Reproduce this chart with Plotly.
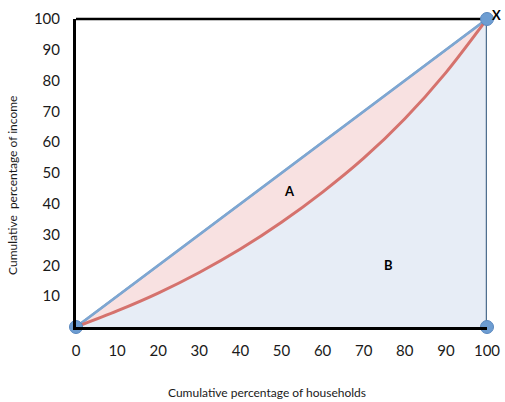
import plotly.graph_objects as go

# Data
curve_x = [0, 10, 20, 30, 40, 50, 60, 70, 80, 90, 100]
curve_y = [0, 5.2, 11, 17.7, 25.3, 34, 43.8, 54.8, 67.6, 82.6, 100]
equal_x = [0, 100]
equal_y = [0, 100]
point_x = [0, 100, 100]
point_y = [0, 0, 100]
x_ticks = [0, 10, 20, 30, 40, 50, 60, 70, 80, 90, 100]
y_ticks = [10, 20, 30, 40, 50, 60, 70, 80, 90, 100]
x_title = "Cumulative percentage of households"
y_title = "Cumulative  percentage of income"

FONT = "Lato, 'Open Sans', sans-serif"

fig = go.Figure()

# light blue area under the Lorenz curve
fig.add_trace(go.Scatter(
    x=curve_x, y=curve_y, fill="tozeroy", fillcolor="#e7edf6", mode="none",
    line=dict(shape="spline", smoothing=0.8), hoverinfo="skip"))

# equality line (reference for pink fill)
fig.add_trace(go.Scatter(
    x=equal_x, y=equal_y, mode="lines",
    line=dict(color="#7ea6d1", width=2.5), hoverinfo="skip", cliponaxis=False))

# pink area between equality line and curve
fig.add_trace(go.Scatter(
    x=curve_x, y=curve_y, fill="tonexty", fillcolor="#f8e1e1", mode="none",
    line=dict(shape="spline", smoothing=0.8), hoverinfo="skip"))

# line of equality (redraw on top of fill)
fig.add_trace(go.Scatter(
    x=equal_x, y=equal_y, mode="lines",
    line=dict(color="#7ea6d1", width=2.5), hoverinfo="skip", cliponaxis=False))

# right edge
fig.add_trace(go.Scatter(
    x=[equal_x[1], equal_x[1]], y=[equal_y[0], equal_y[1]],
    mode="lines", line=dict(color="#4f6f8f", width=2.5), hoverinfo="skip",
    cliponaxis=False))

# Lorenz curve
fig.add_trace(go.Scatter(
    x=curve_x, y=curve_y, mode="lines",
    line=dict(color="#d5726d", width=3, shape="spline", smoothing=0.8),
    hoverinfo="skip", cliponaxis=False))

# corner points
fig.add_trace(go.Scatter(
    x=point_x, y=point_y, mode="markers",
    marker=dict(size=13, color="#6d9dd2", line=dict(color="#5a88be", width=1)),
    hoverinfo="skip", cliponaxis=False))

fig.update_layout(
    width=505, height=402,
    margin=dict(l=76, r=18, t=19, b=75),
    plot_bgcolor="white", paper_bgcolor="white",
    showlegend=False,
    font=dict(family=FONT, color="#1a1a1a"),
    xaxis=dict(range=[0, 100], showgrid=False, zeroline=False, automargin=False,
               tickvals=x_ticks, ticktext=[str(v) for v in x_ticks],
               tickfont=dict(size=15), ticks="", ticklabelstandoff=8,
               showline=True, linecolor="black", linewidth=3),
    yaxis=dict(range=[0, 100], showgrid=False, zeroline=False, automargin=False,
               tickvals=y_ticks, ticktext=[str(v) for v in y_ticks],
               tickfont=dict(size=15), ticks="", ticklabelstandoff=10,
               showline=True, linecolor="black", linewidth=3),
    shapes=[dict(type="line", xref="paper", yref="paper", x0=0, x1=1, y0=1, y1=1,
                 line=dict(color="black", width=2.5), layer="below")],
    annotations=[
        dict(x=0.465, y=-0.214, xref="paper", yref="paper", text=x_title,
             xanchor="center", yanchor="middle",
             showarrow=False, font=dict(size=12)),
        dict(x=-0.156, y=0.461, xref="paper", yref="paper", text=y_title,
             xanchor="center", yanchor="middle",
             textangle=-90, showarrow=False, font=dict(size=12)),
        dict(x=100, y=100, text="<b>X</b>", showarrow=False, xanchor="left",
             xshift=3, yshift=4, font=dict(size=13, color="black")),
        dict(x=52, y=44, text="<b>A</b>", showarrow=False,
             font=dict(size=13, color="black")),
        dict(x=76, y=20, text="<b>B</b>", showarrow=False,
             font=dict(size=13, color="black")),
    ],
)

fig.write_html("out.html", config={"displayModeBar": False},
               post_script="document.body.style.margin='0';document.body.style.overflow='hidden';")
